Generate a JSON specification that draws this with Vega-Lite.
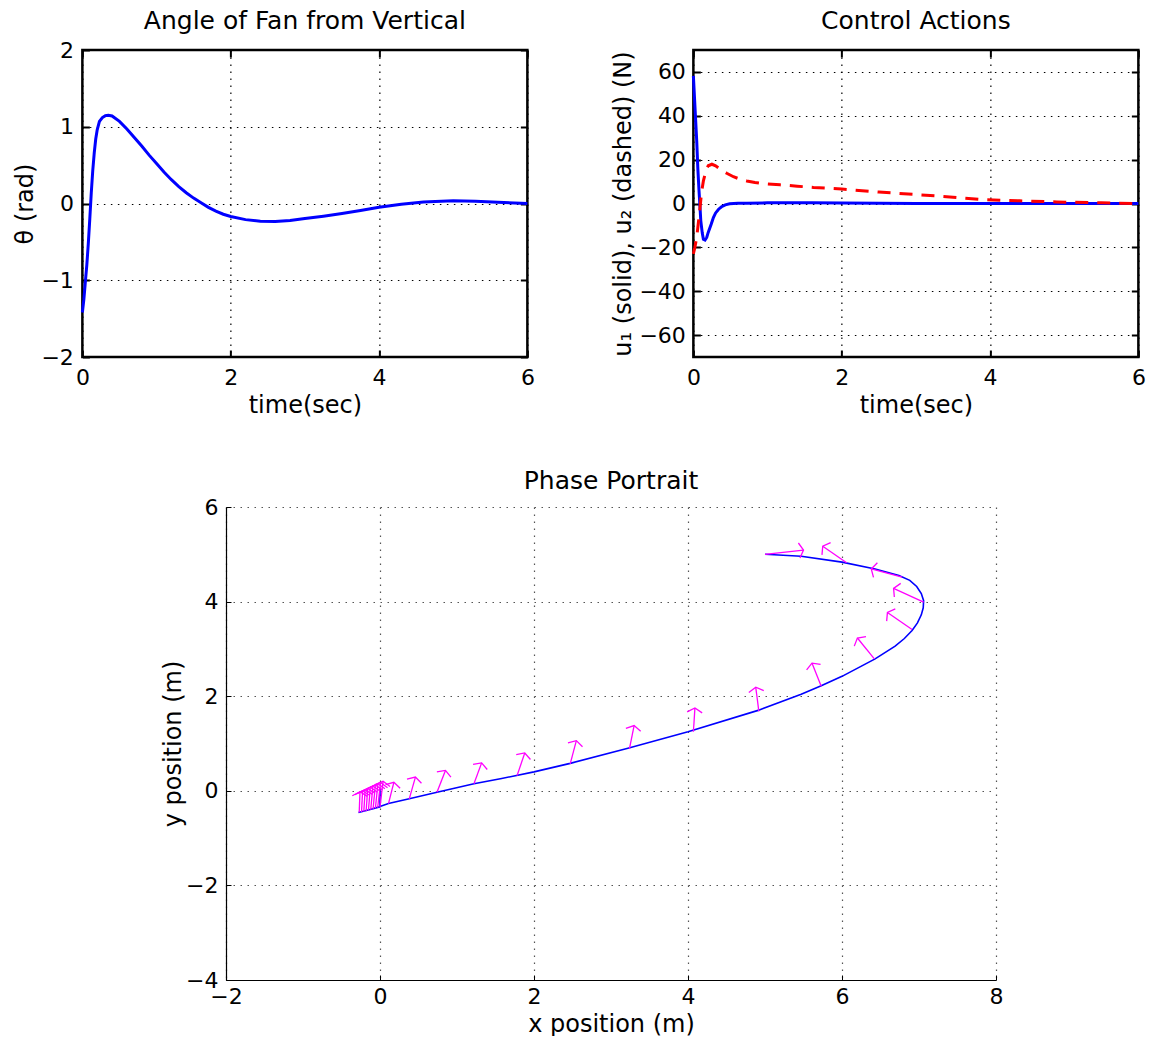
{
  "$schema": "https://vega.github.io/schema/vega-lite/v6.json",
  "background": "white",
  "padding": {"left": 12, "top": 7, "right": 0, "bottom": 0},
  "config": {
    "font": "DejaVu Sans",
    "title": {"font": "DejaVu Sans", "fontSize": 25, "fontWeight": "normal", "color": "black", "offset": 12},
    "axis": {
      "labelFont": "DejaVu Sans", "labelFontSize": 22, "labelColor": "black",
      "titleFont": "DejaVu Sans", "titleFontSize": 24, "titleFontWeight": "normal", "titleColor": "black",
      "labelFlush": false, "labelOverlap": false,
      "gridDash": [1.5, 5.5], "gridColor": "#000000", "gridOpacity": 1, "gridWidth": 1.2,
      "tickColor": "black"
    }
  },
  "datasets": {
    "theta": [
      {"t": 0, "theta": -1.42}, {"t": 0.02, "theta": -1.25}, {"t": 0.04, "theta": -1.02}, {"t": 0.06, "theta": -0.8},
      {"t": 0.08, "theta": -0.52}, {"t": 0.1, "theta": -0.2}, {"t": 0.12, "theta": 0.14}, {"t": 0.14, "theta": 0.43},
      {"t": 0.16, "theta": 0.66}, {"t": 0.18, "theta": 0.84}, {"t": 0.2, "theta": 0.96}, {"t": 0.23, "theta": 1.07},
      {"t": 0.27, "theta": 1.12}, {"t": 0.31, "theta": 1.145}, {"t": 0.35, "theta": 1.15}, {"t": 0.4, "theta": 1.14},
      {"t": 0.5, "theta": 1.07}, {"t": 0.6, "theta": 0.97}, {"t": 0.7, "theta": 0.86}, {"t": 0.8, "theta": 0.75},
      {"t": 0.9, "theta": 0.63}, {"t": 1.0, "theta": 0.52}, {"t": 1.1, "theta": 0.41}, {"t": 1.2, "theta": 0.31},
      {"t": 1.3, "theta": 0.22}, {"t": 1.4, "theta": 0.14}, {"t": 1.5, "theta": 0.07}, {"t": 1.6, "theta": 0.01},
      {"t": 1.7, "theta": -0.05}, {"t": 1.8, "theta": -0.1}, {"t": 1.9, "theta": -0.14}, {"t": 2.0, "theta": -0.17},
      {"t": 2.2, "theta": -0.21}, {"t": 2.4, "theta": -0.23}, {"t": 2.6, "theta": -0.235}, {"t": 2.8, "theta": -0.22},
      {"t": 3.0, "theta": -0.195}, {"t": 3.25, "theta": -0.165}, {"t": 3.5, "theta": -0.13}, {"t": 3.75, "theta": -0.09},
      {"t": 4.0, "theta": -0.05}, {"t": 4.3, "theta": -0.01}, {"t": 4.6, "theta": 0.02}, {"t": 5.0, "theta": 0.035},
      {"t": 5.3, "theta": 0.03}, {"t": 5.6, "theta": 0.015}, {"t": 6.0, "theta": 0.0}
    ],
    "u1": [
      {"t": 0, "u": 58.2}, {"t": 0.02, "u": 45}, {"t": 0.045, "u": 28.6}, {"t": 0.06, "u": 16}, {"t": 0.076, "u": 5.8},
      {"t": 0.09, "u": -2}, {"t": 0.1, "u": -7.9}, {"t": 0.12, "u": -13.5}, {"t": 0.135, "u": -16.3}, {"t": 0.157, "u": -16.7},
      {"t": 0.18, "u": -15.5}, {"t": 0.2, "u": -13.2}, {"t": 0.24, "u": -9.5}, {"t": 0.27, "u": -6.4}, {"t": 0.3, "u": -4.3},
      {"t": 0.34, "u": -2.6}, {"t": 0.38, "u": -1.5}, {"t": 0.43, "u": -0.6}, {"t": 0.49, "u": -0.15}, {"t": 0.6, "u": 0.1},
      {"t": 0.72, "u": 0.15}, {"t": 1.0, "u": 0.3}, {"t": 1.3, "u": 0.35}, {"t": 1.6, "u": 0.3}, {"t": 2.0, "u": 0.2},
      {"t": 2.5, "u": 0.1}, {"t": 3.0, "u": 0.05}, {"t": 4.0, "u": 0.0}, {"t": 5.0, "u": 0.0}, {"t": 6.0, "u": 0.0}
    ],
    "u2": [
      {"t": 0, "u": -23}, {"t": 0.02, "u": -20}, {"t": 0.045, "u": -15.5}, {"t": 0.07, "u": -8}, {"t": 0.09, "u": -1.8},
      {"t": 0.11, "u": 5}, {"t": 0.135, "u": 10.3}, {"t": 0.17, "u": 15}, {"t": 0.2, "u": 17.2}, {"t": 0.25, "u": 17.9},
      {"t": 0.3, "u": 17.2}, {"t": 0.36, "u": 15.7}, {"t": 0.45, "u": 13.8}, {"t": 0.54, "u": 12.2}, {"t": 0.63, "u": 11.1},
      {"t": 0.72, "u": 10.3}, {"t": 0.83, "u": 9.6}, {"t": 0.94, "u": 9.1}, {"t": 1.17, "u": 8.5}, {"t": 1.4, "u": 7.9},
      {"t": 1.62, "u": 7.3}, {"t": 2.0, "u": 6.6}, {"t": 2.5, "u": 5.2}, {"t": 3.0, "u": 4.1}, {"t": 3.5, "u": 2.9},
      {"t": 3.9, "u": 1.8}, {"t": 4.4, "u": 1.2}, {"t": 4.9, "u": 0.7}, {"t": 5.5, "u": 0.3}, {"t": 6.0, "u": 0.0}
    ],
    "path": [
      {"i": 0, "x": 5.0, "y": 5.0}, {"i": 1, "x": 5.47, "y": 4.96}, {"i": 2, "x": 6.0, "y": 4.835}, {"i": 3, "x": 6.43, "y": 4.69},
      {"i": 4, "x": 6.74, "y": 4.55}, {"i": 5, "x": 6.88, "y": 4.45}, {"i": 6, "x": 6.97, "y": 4.32}, {"i": 7, "x": 7.03, "y": 4.17},
      {"i": 8, "x": 7.06, "y": 4.02}, {"i": 9, "x": 7.055, "y": 3.87}, {"i": 10, "x": 7.03, "y": 3.72}, {"i": 11, "x": 6.98, "y": 3.55},
      {"i": 12, "x": 6.91, "y": 3.39}, {"i": 13, "x": 6.81, "y": 3.22}, {"i": 14, "x": 6.69, "y": 3.06}, {"i": 15, "x": 6.43, "y": 2.79},
      {"i": 16, "x": 6.0, "y": 2.42}, {"i": 17, "x": 5.73, "y": 2.22}, {"i": 18, "x": 5.47, "y": 2.04}, {"i": 19, "x": 4.91, "y": 1.7},
      {"i": 20, "x": 4.0, "y": 1.25}, {"i": 21, "x": 3.22, "y": 0.9}, {"i": 22, "x": 2.47, "y": 0.58}, {"i": 23, "x": 2.0, "y": 0.4},
      {"i": 24, "x": 1.58, "y": 0.26}, {"i": 25, "x": 1.22, "y": 0.15}, {"i": 26, "x": 0.74, "y": -0.03}, {"i": 27, "x": 0.38, "y": -0.17},
      {"i": 28, "x": 0.11, "y": -0.27}, {"i": 29, "x": 0.0, "y": -0.33}, {"i": 30, "x": -0.14, "y": -0.4}, {"i": 31, "x": -0.28, "y": -0.46},
      {"i": 32, "x": -0.14, "y": -0.4}, {"i": 33, "x": 0.0, "y": -0.34}, {"i": 34, "x": 0.0, "y": -0.1}, {"i": 35, "x": 0.0, "y": 0.05}
    ],
    "arrows": [
      {"x": 5.0, "y": 5.0, "tx": 5.5, "ty": 5.09, "heading": 84},
      {"x": 6.06, "y": 4.82, "tx": 5.75, "ty": 5.17, "heading": -55},
      {"x": 6.78, "y": 4.52, "tx": 6.38, "ty": 4.69, "heading": -75},
      {"x": 7.06, "y": 3.99, "tx": 6.67, "ty": 4.28, "heading": -65},
      {"x": 6.91, "y": 3.41, "tx": 6.59, "ty": 3.77, "heading": -55},
      {"x": 6.42, "y": 2.79, "tx": 6.2, "ty": 3.23, "heading": -39},
      {"x": 5.73, "y": 2.21, "tx": 5.61, "ty": 2.7, "heading": -22},
      {"x": 4.92, "y": 1.68, "tx": 4.88, "ty": 2.19, "heading": -7},
      {"x": 4.07, "y": 1.25, "tx": 4.09, "ty": 1.75, "heading": 4},
      {"x": 3.24, "y": 0.89, "tx": 3.3, "ty": 1.38, "heading": 11},
      {"x": 2.47, "y": 0.57, "tx": 2.55, "ty": 1.06, "heading": 15},
      {"x": 1.78, "y": 0.32, "tx": 1.88, "ty": 0.8, "heading": 19},
      {"x": 1.22, "y": 0.15, "tx": 1.32, "ty": 0.59, "heading": 20},
      {"x": 0.74, "y": -0.03, "tx": 0.85, "ty": 0.43, "heading": 21},
      {"x": 0.38, "y": -0.17, "tx": 0.46, "ty": 0.29, "heading": 16},
      {"x": 0.11, "y": -0.27, "tx": 0.18, "ty": 0.18, "heading": 14},
      {"x": 0.0, "y": -0.34, "tx": 0.04, "ty": 0.2, "heading": 7},
      {"x": -0.03, "y": -0.355, "tx": 0.007, "ty": 0.175, "heading": 6.5},
      {"x": -0.06, "y": -0.37, "tx": -0.027, "ty": 0.15, "heading": 6},
      {"x": -0.09, "y": -0.385, "tx": -0.06, "ty": 0.125, "heading": 5.5},
      {"x": -0.12, "y": -0.4, "tx": -0.093, "ty": 0.1, "heading": 5},
      {"x": -0.15, "y": -0.415, "tx": -0.126, "ty": 0.075, "heading": 4.6},
      {"x": -0.18, "y": -0.43, "tx": -0.16, "ty": 0.05, "heading": 3.9},
      {"x": -0.21, "y": -0.44, "tx": -0.193, "ty": 0.025, "heading": 3.4},
      {"x": -0.24, "y": -0.45, "tx": -0.226, "ty": 0.0, "heading": 2.9},
      {"x": -0.27, "y": -0.46, "tx": -0.26, "ty": -0.02, "heading": 2.1}
    ]
  },
  "center": true,
  "spacing": 50,
  "vconcat": [
    {
      "spacing": 74,
      "hconcat": [
        {
          "width": 445, "height": 307,
          "title": {"text": "Angle of Fan from Vertical", "offset": 5},
          "view": {"stroke": "black", "strokeWidth": 2.5},
          "resolve": {"axis": {"x": "independent", "y": "independent"}},
          "layer": [
            {
              "data": {"name": "theta"},
              "mark": {"type": "line", "color": "#0000ff", "strokeWidth": 3},
              "encoding": {
                "x": {"field": "t", "type": "quantitative", "scale": {"domain": [0, 6], "nice": false},
                      "axis": {"orient": "bottom", "values": [0, 2, 4, 6], "grid": true, "domain": false, "tickSize": -7, "tickWidth": 2, "labelPadding": 17, "title": "time(sec)", "titlePadding": 5}},
                "y": {"field": "theta", "type": "quantitative", "scale": {"domain": [-2, 2], "nice": false},
                      "axis": {"orient": "left", "values": [-2, -1, 0, 1, 2], "grid": true, "domain": false, "tickSize": -7, "tickWidth": 2, "labelPadding": 16, "title": "θ (rad)", "titlePadding": 3}}
              }
            },
            {
              "data": {"name": "theta"},
              "mark": {"type": "line", "opacity": 0},
              "encoding": {
                "x": {"field": "t", "type": "quantitative", "scale": {"domain": [0, 6], "nice": false},
                      "axis": {"orient": "top", "values": [0, 2, 4, 6], "grid": false, "domain": false, "labels": false, "tickSize": -7, "tickWidth": 2, "title": null}},
                "y": {"field": "theta", "type": "quantitative", "scale": {"domain": [-2, 2], "nice": false},
                      "axis": {"orient": "right", "values": [-2, -1, 0, 1, 2], "grid": false, "domain": false, "labels": false, "tickSize": -7, "tickWidth": 2, "title": null}}
              }
            }
          ]
        },
        {
          "width": 445, "height": 307,
          "title": {"text": "Control Actions", "offset": 15},
          "view": {"stroke": "black", "strokeWidth": 2.5},
          "resolve": {"axis": {"x": "independent", "y": "independent"}},
          "layer": [
            {
              "data": {"name": "u1"},
              "mark": {"type": "line", "color": "#0000ff", "strokeWidth": 3},
              "encoding": {
                "x": {"field": "t", "type": "quantitative", "scale": {"domain": [0, 6], "nice": false},
                      "axis": {"orient": "bottom", "values": [0, 2, 4, 6], "grid": true, "domain": false, "tickSize": -7, "tickWidth": 2, "labelPadding": 17, "title": "time(sec)", "titlePadding": 5}},
                "y": {"field": "u", "type": "quantitative", "scale": {"domain": [-70, 70], "nice": false},
                      "axis": {"orient": "left", "values": [-60, -40, -20, 0, 20, 40, 60], "grid": true, "domain": false, "tickSize": -7, "tickWidth": 2, "labelPadding": 15, "title": "u₁ (solid), u₂ (dashed) (N)", "titlePadding": 3}}
              }
            },
            {
              "data": {"name": "u2"},
              "mark": {"type": "line", "color": "#ff0000", "strokeWidth": 3, "strokeDash": [13, 9]},
              "encoding": {
                "x": {"field": "t", "type": "quantitative", "scale": {"domain": [0, 6], "nice": false},
                      "axis": {"orient": "top", "values": [0, 2, 4, 6], "grid": false, "domain": false, "labels": false, "tickSize": -7, "tickWidth": 2, "title": null}},
                "y": {"field": "u", "type": "quantitative", "scale": {"domain": [-70, 70], "nice": false},
                      "axis": {"orient": "right", "values": [-60, -40, -20, 0, 20, 40, 60], "grid": false, "domain": false, "labels": false, "tickSize": -7, "tickWidth": 2, "title": null}}
              }
            }
          ]
        }
      ]
    },
    {
      "width": 770, "height": 473,
      "title": {"text": "Phase Portrait", "offset": 2},
      "view": {"stroke": null},
      "encoding": {
        "x": {"field": "x", "type": "quantitative", "scale": {"domain": [-2, 8], "nice": false},
              "axis": {"orient": "bottom", "values": [-2, 0, 2, 4, 6, 8], "grid": true, "gridColor": "#555555", "domain": true, "domainColor": "black", "domainWidth": 1.2, "tickSize": -5, "tickWidth": 1, "labelPadding": 11, "title": "x position (m)", "titlePadding": 5}},
        "y": {"field": "y", "type": "quantitative", "scale": {"domain": [-4, 6], "nice": false},
              "axis": {"orient": "left", "values": [-4, -2, 0, 2, 4, 6], "grid": true, "gridColor": "#555555", "domain": true, "domainColor": "black", "domainWidth": 1.2, "tickSize": -5, "tickWidth": 1, "labelPadding": 13, "title": "y position (m)", "titlePadding": 0}}
      },
      "layer": [
        {
          "data": {"name": "path"},
          "mark": {"type": "line", "color": "#0000ff", "strokeWidth": 1.6},
          "encoding": {"order": {"field": "i", "type": "quantitative"}}
        },
        {
          "data": {"name": "arrows"},
          "mark": {"type": "rule", "color": "#ff00ff", "strokeWidth": 1.3},
          "encoding": {
            "x2": {"field": "tx"},
            "y2": {"field": "ty"}
          }
        },
        {
          "data": {"name": "arrows"},
          "mark": {"type": "point", "shape": "M-0.87,0.5L0,0L0.87,0.5", "filled": false, "stroke": "#ff00ff", "strokeWidth": 1.3, "size": 300, "opacity": 1},
          "encoding": {
            "x": {"field": "tx", "type": "quantitative"},
            "y": {"field": "ty", "type": "quantitative"},
            "angle": {"field": "heading", "type": "quantitative", "scale": null}
          }
        }
      ]
    }
  ]
}
